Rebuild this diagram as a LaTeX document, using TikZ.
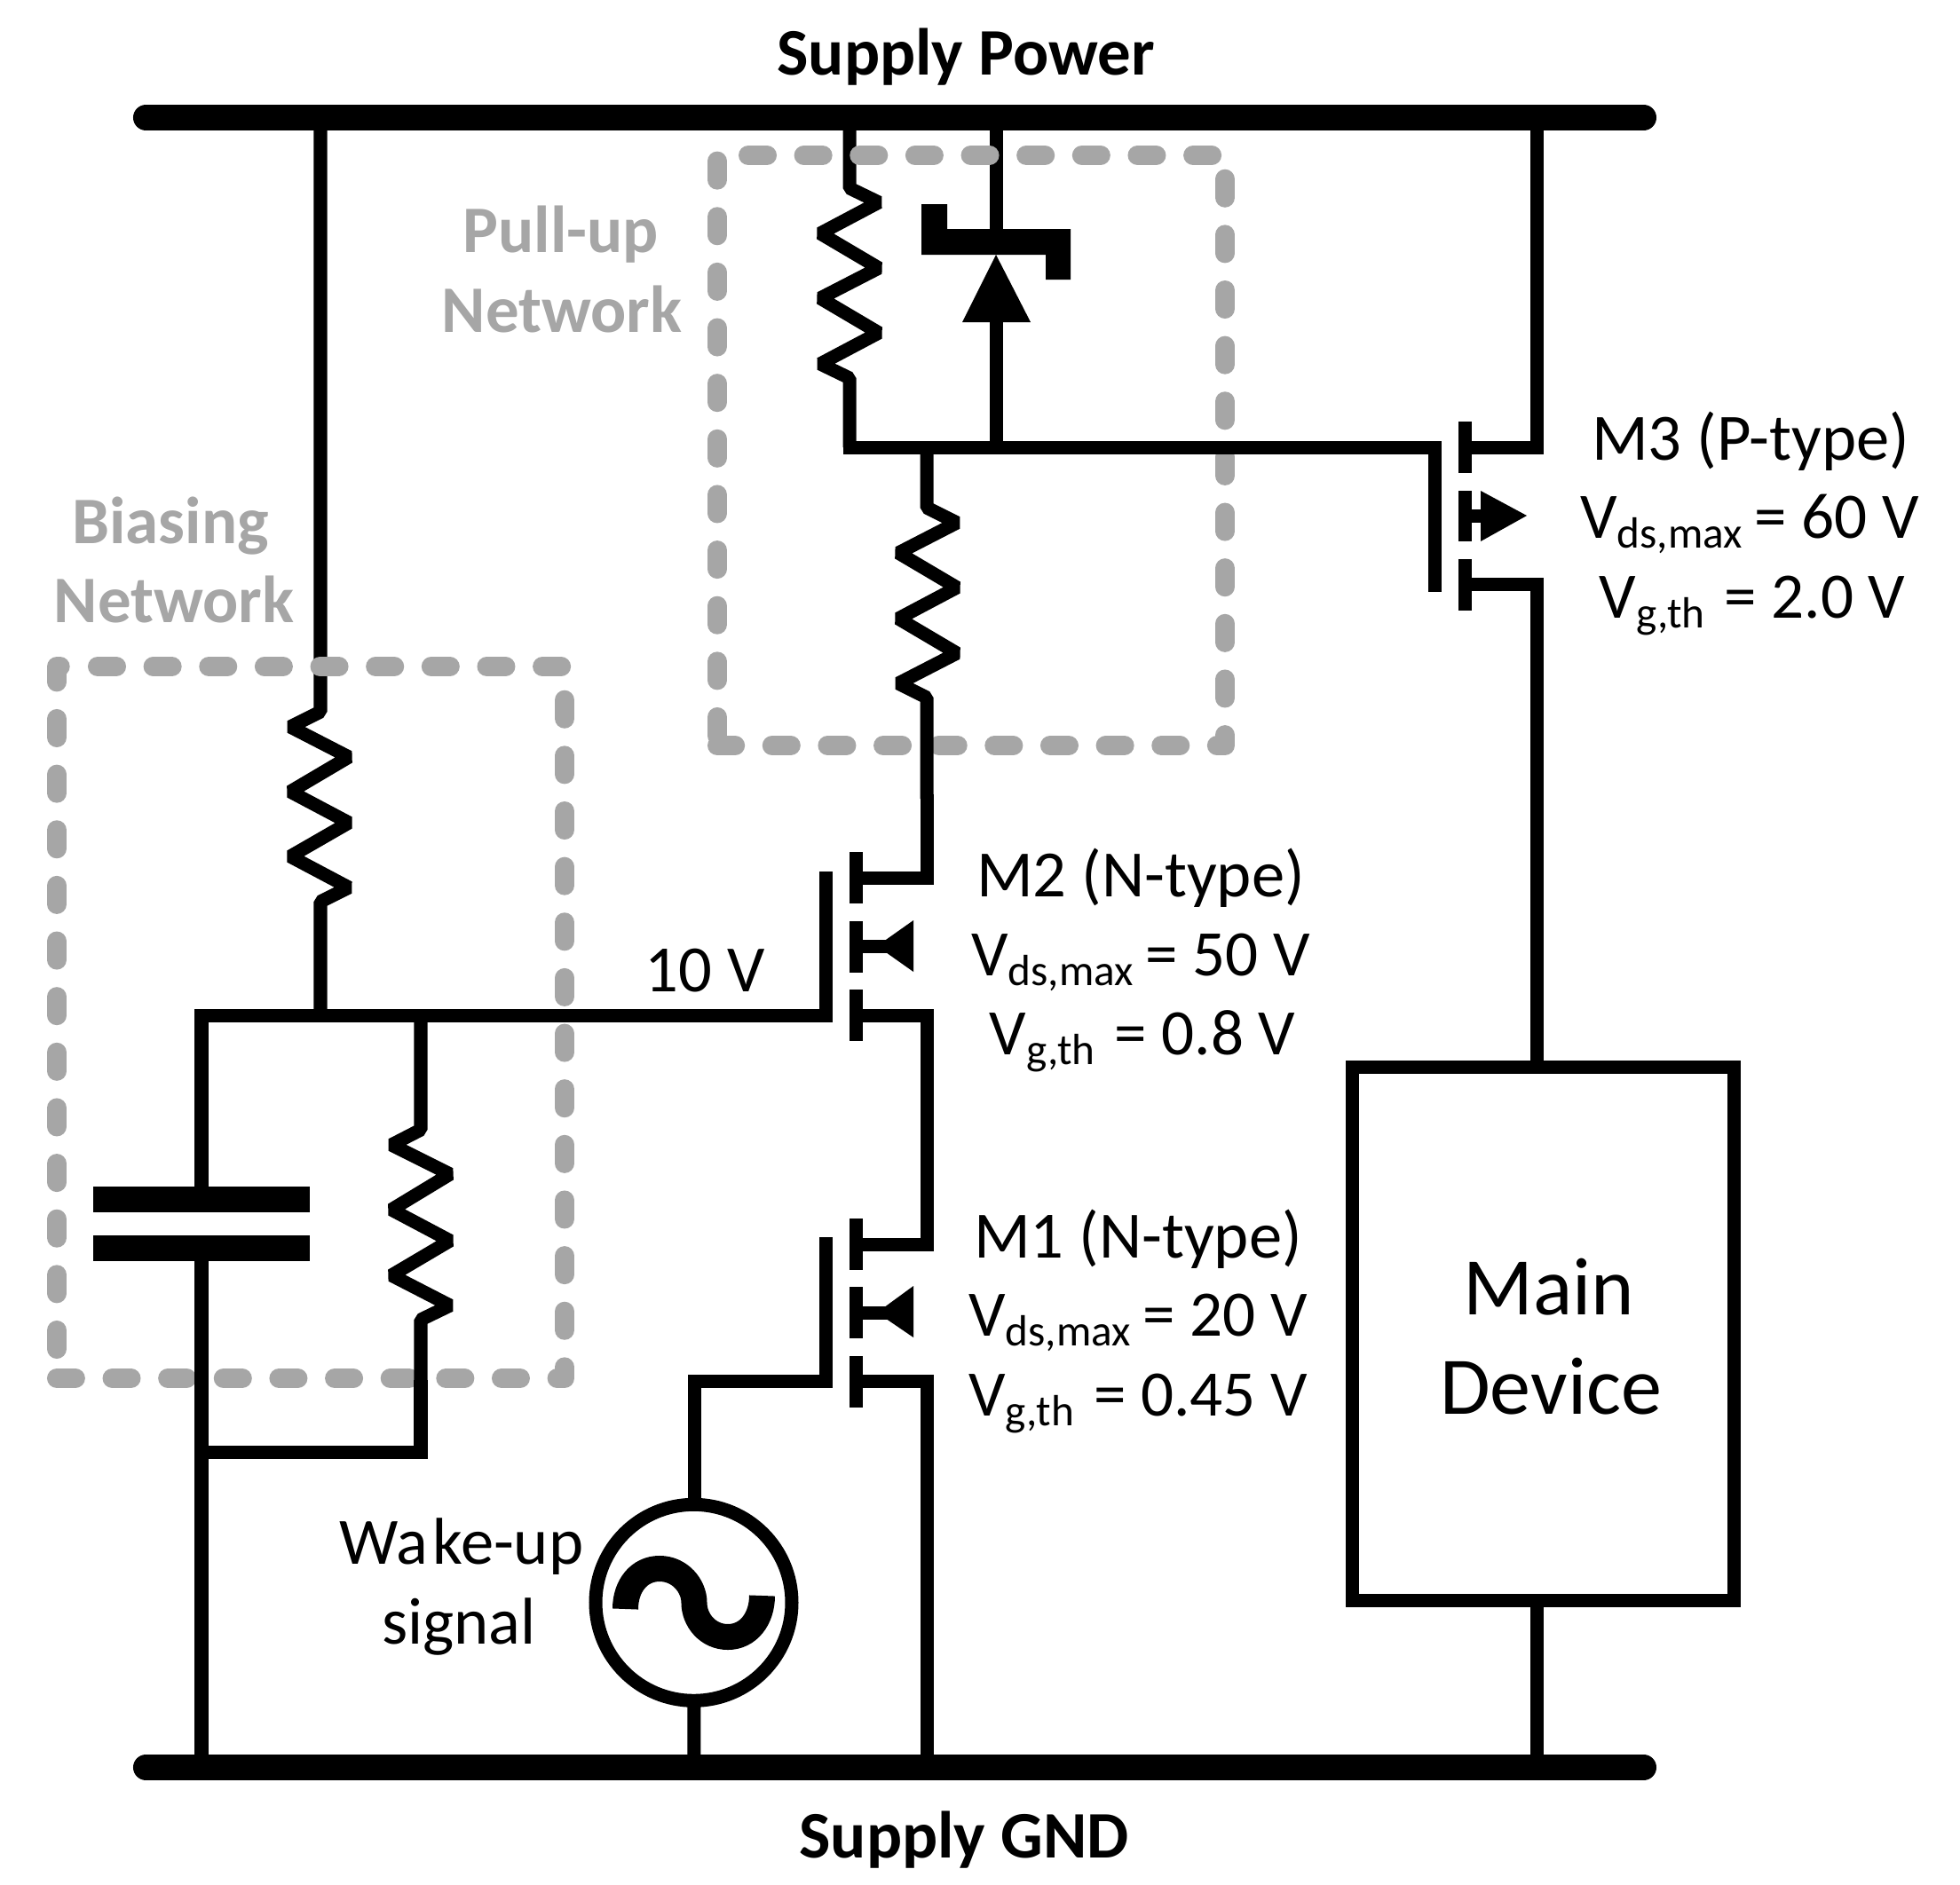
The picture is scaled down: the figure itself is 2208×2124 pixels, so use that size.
\documentclass[tikz,border=0pt]{standalone}
\usepackage{fontspec}
\setmainfont{Carlito}
\newcommand{\subt}[1]{\raisebox{-3.4pt}{\fontsize{14}{15}\selectfont #1}\kern-0.8pt\relax}
\tikzset{
  wire/.style={line width=0.15cm,line cap=butt,line join=miter,miter limit=10},
  zigwire/.style={line width=0.15cm,line cap=butt,line join=bevel},
  bus/.style={line width=0.29cm,line cap=round},
  netbox/.style={draw=netgrey,line width=0.22cm,line cap=round,line join=round,dash pattern=on 0.21cm off 0.416cm},
  lbl/.style={font=\fontsize{20.8}{24}\selectfont,inner sep=0pt,anchor=base},
  namelbl/.style={lbl,font=\fontsize{21.2}{24}\selectfont},
  boldlbl/.style={lbl,font=\fontsize{21.3}{24}\selectfont\bfseries},
  greylbl/.style={boldlbl,text=netgrey},
  biglbl/.style={lbl,font=\fontsize{26.2}{28}\selectfont}
}
\definecolor{netgrey}{HTML}{A6A6A6}
\begin{document}
\begin{tikzpicture}[x=0.01cm,y=-0.01cm]
\useasboundingbox (0,0) rectangle (2208,2124);
\fill[white] (0,0) rectangle (2208,2124);
% rails
\coordinate (tl) at (164.5,132.5); \coordinate (tr) at (1851.5,132.5);
\coordinate (bl) at (164.5,1991.5); \coordinate (br) at (1851.5,1991.5);
\draw[bus] (tl) -- (tr);
\draw[bus] (bl) -- (br);
% feeds that pass under the grey boxes
\coordinate (r1top) at (957,132.5);
\coordinate (r1bot) at (957,504);
\draw[zigwire] (r1top) -- (957,212) -- (990,228) -- (924,263) -- (990,302) -- (924,336) -- (990,375) -- (924,410) -- (957,426) -- (r1bot);
\coordinate (ztop) at (1122,132.5);
\coordinate (zbar) at (1122,258);
\draw[wire] (ztop) -- (zbar);
\coordinate (r3top) at (361,132.5);
\coordinate (r3bot) at (361,1144);
\draw[zigwire] (r3top) -- (361,802) -- (327,819) -- (393,853) -- (327,892) -- (393,927) -- (327,965) -- (393,1000) -- (361,1016) -- (r3bot);
% grey boxes
\draw[netbox] (843,175) -- (1380,175) -- (1380,840) -- (808,840);
\draw[netbox] (808,829) -- (808,170);
\draw[netbox] (110,751) -- (636,751) -- (636,1553) -- (64,1553);
\draw[netbox] (64,1520) -- (64,751) -- (80,751);
% zener
\fill (1038,230) -- (1067,230) -- (1067,258) -- (1206,258) -- (1206,315) -- (1178,315) -- (1178,287) -- (1038,287) -- cycle;
\fill (1122,287) -- (1161,363) -- (1084,363) -- cycle;
\coordinate (zbot) at (1122,504);
\coordinate (ztri) at (1122,360);
\draw[wire] (ztri) -- (zbot);
% M3
\coordinate (m3g) at (1616.5,667);
\coordinate (m3d) at (1650.5,504);
\coordinate (m3s) at (1650.5,658);
\coordinate (m3w) at (1731,132.5);
\coordinate (devt) at (1731,1202);
\draw[wire] (957,497) -- (r1bot) -- (1616.5,504) -- (m3g);
\draw[wire] (1650.5,475) -- (1650.5,533);
\draw[wire] (1650.5,553) -- (1650.5,610);
\draw[wire] (1650.5,630) -- (1650.5,688);
\draw[wire] (m3d) -- (1731,504) -- (m3w);
\draw[wire] (m3s) -- (1731,658) -- (devt);
\draw[wire] (1650.5,581) -- (1680,581);
\fill (1668,553) -- (1720,581) -- (1668,610) -- cycle;
% R2 and M2
\coordinate (r2top) at (1044,504);
\coordinate (m2d) at (964.5,989);
\draw[zigwire] (r2top) -- (1044,572) -- (1078,589) -- (1012,623) -- (1078,662) -- (1012,697) -- (1078,736) -- (1012,770) -- (1044,786) -- (1044,900);
\draw[wire] (1044,895) -- (1044,989) -- (m2d);
\draw[wire] (964.5,960) -- (964.5,1018);
\draw[wire] (964.5,1038) -- (964.5,1096);
\draw[wire] (964.5,1115) -- (964.5,1173);
\coordinate (m2gt) at (930.5,982);
\coordinate (capt) at (227,1337);
\draw[wire] (m2gt) -- (930.5,1144) -- (227,1144) -- (capt);
\draw[wire] (964.5,1066) -- (1000,1066);
\fill (1029,1037) -- (988,1066) -- (1029,1095) -- cycle;
% M2 source to M1 drain
\coordinate (m2s) at (964.5,1144);
\coordinate (m1d) at (964.5,1402);
\draw[wire] (m2s) -- (1044,1144) -- (1044,1402) -- (m1d);
% M1
\draw[wire] (964.5,1373) -- (964.5,1431);
\draw[wire] (964.5,1450) -- (964.5,1508);
\draw[wire] (964.5,1528) -- (964.5,1586);
\coordinate (m1gt) at (930.5,1394);
\coordinate (srctop) at (782,1700);
\draw[wire] (m1gt) -- (930.5,1556) -- (782,1556) -- (srctop);
\draw[wire] (964.5,1479) -- (1000,1479);
\fill (1029,1449) -- (988,1479) -- (1029,1507) -- cycle;
\coordinate (m1s) at (964.5,1556);
\coordinate (m1gnd) at (1044,1991.5);
\draw[wire] (m1s) -- (1044,1556) -- (m1gnd);
% R4 and capacitor
\coordinate (r4top) at (474,1144);
\coordinate (r4bot) at (227,1636);
\draw[zigwire] (r4top) -- (474,1273) -- (441,1290) -- (507,1323) -- (441,1363) -- (507,1398) -- (441,1437) -- (507,1471) -- (474,1487) -- (474,1560);
\draw[wire] (474,1555) -- (474,1636) -- (r4bot);
\fill (105,1337) rectangle (349,1366);
\fill (105,1392) rectangle (349,1421);
\coordinate (capb) at (227,1421);
\coordinate (capgnd) at (227,1991.5);
\draw[wire] (capb) -- (capgnd);
% source
\coordinate (srcc) at (781.5,1805.8);
\coordinate (srcgnd) at (782,1991.5);
\draw[wire] (srcc) -- (srcgnd);
\draw[line width=0.15cm,fill=white] (srcc) circle[radius=110.5];
\draw[line width=0.29cm,line cap=butt] (704.5,1813) .. controls (704.5,1787) and (720,1767.5) .. (743,1767.5) .. controls (766,1767.5) and (782,1787) .. (782,1806) .. controls (782,1825) and (797,1844.5) .. (820,1844.5) .. controls (843,1844.5) and (858.5,1824) .. (858.5,1798);
% main device
\coordinate (devb) at (1731,1803);
\coordinate (devgnd) at (1731,1991.5);
\draw[wire] (devb) -- (devgnd);
\draw[wire] (1523,1202) rectangle (1953,1803);
% labels
\node[boldlbl] (supplyp) at (1088,84) {Supply Power};
\node[boldlbl] (supplyg) at (1086,2093) {Supply GND};
\node[greylbl] (pull1) at (632,284) {Pull-up};
\node[greylbl] (pull2) at (633,374) {Network};
\node[greylbl] (bias1) at (192,612) {Biasing};
\node[greylbl] (bias2) at (196,701) {Network};
\node[namelbl] (m3a) at (1972,518) {M3 (P-type)};
\node[lbl] (m3b) at (1971,606) {V\subt{ds,max} = 60 V};
\node[lbl] (m3c) at (1974,696) {V\subt{g,th\,} = 2.0 V};
\node[namelbl] (m2a) at (1285,1010) {M2 (N-type)};
\node[lbl] (m2b) at (1285,1099) {V\subt{ds,max} = 50 V};
\node[lbl] (m2c) at (1287,1188) {V\subt{g,th\,} = 0.8 V};
\node[namelbl] (m1a) at (1282,1417) {M1 (N-type)};
\node[lbl] (m1b) at (1282,1505) {V\subt{ds,max} = 20 V};
\node[lbl] (m1c) at (1282,1595) {V\subt{g,th\,} = 0.45 V};
\node[namelbl] (tenv) at (794,1117) {10 V};
\node[namelbl] (wake1) at (520,1762) {Wa\kern1.5pt ke-up};
\node[namelbl] (wake2) at (517,1852) {signal};
\node[biglbl] (dev1) at (1745,1481) {Main};
\node[biglbl] (dev2) at (1747,1593) {Device};
\end{tikzpicture}
\end{document}
